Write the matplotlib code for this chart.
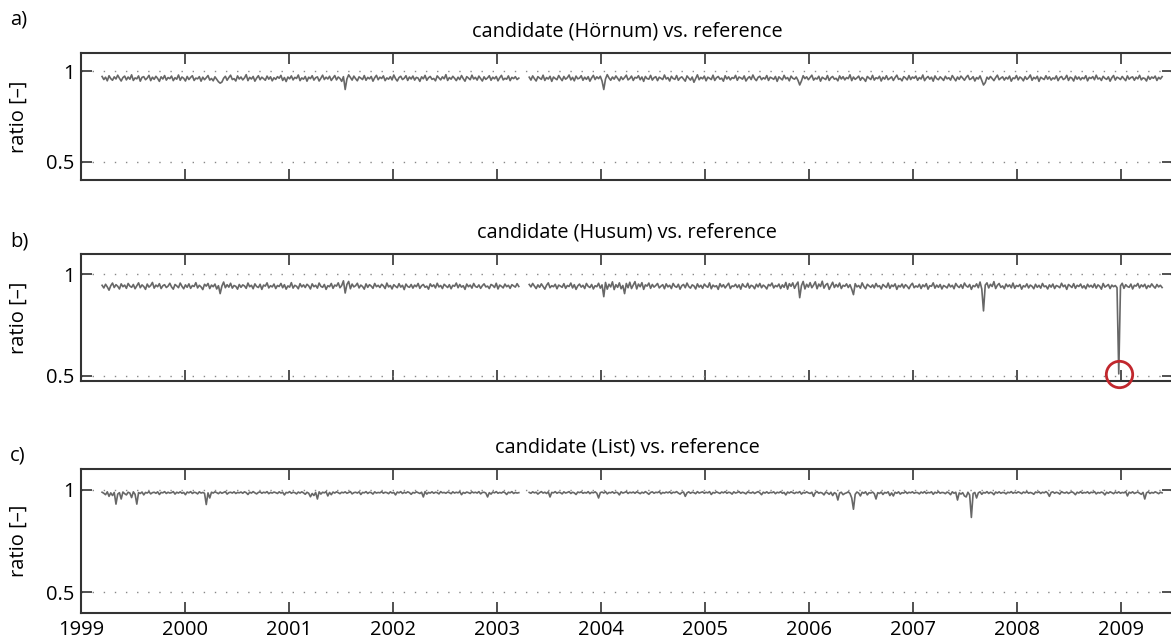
import numpy as np
import matplotlib
matplotlib.use("Agg")
import matplotlib.pyplot as plt

plt.rcParams['font.family'] = ['Open Sans', 'DejaVu Sans']

# ratio series in thousandths, two segments each (data gap in spring 2003)
seg1_start, seg1_end = 1999.20, 2003.21
seg2_start, seg2_end = 2003.31, 2009.40

hoernum_1 = [
    972, 955, 968, 948, 976, 960, 951, 970, 958, 979, 962, 947, 966, 974, 953, 969, 957, 981, 950, 964,
    959, 975, 946, 967, 971, 954, 963, 978, 949, 968, 956, 973, 961, 945, 970, 958, 977, 952, 966, 960,
    974, 949, 965, 957, 980, 951, 969, 962, 947, 972, 955, 967, 976, 950, 963, 959, 971, 946, 968, 954,
    965, 977, 952, 961, 948, 970, 957, 943, 935, 941, 962, 973, 951, 966, 979, 955, 960, 947, 975, 958,
    969, 953, 964, 982, 949, 967, 958, 972, 946, 963, 976, 954, 968, 960, 951, 974, 957, 970, 948, 965,
    956, 971, 962, 978, 950, 966, 944, 969, 959, 975, 953, 967, 961, 980, 949, 964, 957, 972, 946, 968,
    960, 976, 952, 965, 970, 947, 962, 979, 955, 968, 958, 973, 950, 964, 977, 953, 969, 961, 945, 971,
    900, 958, 981, 966, 952, 974, 960, 948, 970, 963, 955, 977, 951, 967, 959, 972, 946, 965, 978, 954,
    968, 961, 975, 949, 964, 957, 971, 953, 980, 960, 947, 966, 973, 955, 962, 976, 950, 969, 958, 974,
    952, 967, 963, 945, 970, 959, 978, 951, 965, 972, 956, 961, 948, 975, 964, 953, 970, 959, 982, 950,
    966, 957, 973, 962, 949, 968, 955, 977, 960, 946, 971, 963, 954, 979, 958, 967, 952, 974, 961, 947,
    970, 956, 964, 976, 951, 968, 959, 972, 948, 965, 978, 953, 962, 957, 975, 949, 967, 960, 971, 955,
    963]
hoernum_2 = [
    968, 952, 975, 960, 947, 971, 963, 956, 979, 950, 966, 958, 973, 945, 969, 961, 954, 977, 962, 949,
    972, 957, 965, 980, 953, 967, 948, 974, 959, 963, 976, 951, 968, 956, 971, 946, 964, 978, 955, 970,
    960, 973, 947, 900, 958, 982, 964, 951, 969, 957, 975, 962, 948, 970, 955, 966, 979, 953, 961, 974,
    950, 967, 963, 976, 954, 969, 945, 972, 960, 957, 978, 952, 965, 971, 949, 968, 962, 955, 980, 958,
    966, 947, 973, 961, 956, 977, 951, 964, 970, 958, 946, 975, 963, 952, 969, 940, 960, 981, 954, 967,
    959, 974, 948, 968, 962, 955, 979, 950, 965, 972, 957, 963, 946, 976, 958, 970, 953, 966, 961, 978,
    951, 969, 964, 957, 975, 947, 962, 971, 955, 980, 960, 949, 967, 973, 954, 965, 958, 977, 950, 968,
    963, 956, 972, 945, 970, 961, 953, 978, 959, 966, 948, 974, 962, 957, 969, 951, 925, 947, 976, 960,
    970, 954, 967, 979, 952, 963, 958, 973, 946, 968, 961, 955, 977, 950, 965, 972, 957, 962, 948, 975,
    958, 971, 953, 966, 960, 981, 949, 969, 956, 964, 974, 951, 967, 959, 945, 972, 963, 955, 978, 952,
    965, 960, 973, 947, 968, 957, 976, 954, 962, 970, 950, 966, 979, 956, 961, 948, 971, 964, 953, 977,
    955, 969, 962, 974, 951, 966, 958, 980, 949, 963, 972, 957, 968, 946, 975, 960, 954, 970, 961, 950,
    973, 959, 965, 952, 977, 962, 948, 969, 956, 974, 963, 951, 967, 978, 955, 960, 971, 947, 966, 958,
    975, 950, 925, 938, 968, 957, 972, 961, 949, 966, 979, 954, 963, 970, 952, 967, 958, 974, 946, 964,
    960, 977, 953, 969, 962, 948, 971, 956, 965, 980, 951, 967, 959, 973, 945, 968, 961, 955, 976, 957,
    970, 952, 964, 958, 975, 949, 966, 972, 955, 961, 978, 950, 968, 963, 947, 974, 957, 969, 953, 966,
    959, 976, 948, 967, 961, 971, 954, 979, 958, 964, 950, 973, 962, 956, 970, 946, 965, 977, 952, 968,
    963, 955, 972, 960, 949, 975, 957, 966, 970, 951, 968, 959, 978, 953, 964, 961, 947, 973, 956, 969,
    962, 974, 950, 967, 958, 971]

husum_1 = [
    946, 933, 951, 938, 922, 944, 957, 935, 949, 941, 928, 953, 939, 947, 931, 955, 942, 936, 950, 929,
    943, 958, 934, 948, 940, 926, 952, 937, 945, 960, 932, 947, 939, 954, 930, 944, 949, 935, 942, 956,
    938, 927, 950, 943, 934, 957, 941, 929, 948, 936, 953, 931, 945, 940, 959, 933, 946, 938, 925, 951,
    942, 955, 930, 947, 939, 952, 928, 944, 905, 942, 962, 934, 949, 937, 956, 932, 945, 941, 927, 950,
    936, 948, 943, 931, 957, 939, 946, 929, 953, 940, 935, 951, 926, 947, 942, 958, 933, 944, 938, 952,
    930, 945, 940, 955, 934, 949, 927, 943, 937, 959, 932, 946, 941, 929, 954, 938, 948, 935, 951, 943,
    928, 953, 939, 946, 932, 957, 941, 936, 950, 926, 944, 939, 955, 931, 947, 942, 958, 934, 945, 968,
    908, 950, 965, 929, 952, 938, 944, 956, 933, 947, 940, 927, 953, 936, 949, 942, 931, 955, 939, 946,
    935, 951, 943, 930, 957, 938, 945, 928, 949, 941, 934, 954, 937, 946, 925, 952, 940, 936, 950, 932,
    947, 939, 955, 931, 944, 950, 936, 942, 927, 953, 940, 948, 933, 956, 938, 945, 930, 951, 943, 935,
    949, 929, 946, 941, 957, 934, 950, 937, 944, 926, 952, 939, 947, 932, 955, 940, 936, 948, 931, 944,
    953, 938, 942, 930, 950, 945, 935, 956, 928, 947, 941, 933, 952, 939, 946, 931, 949, 943, 937, 954,
    940]
husum_2 = [
    950, 938, 955, 942, 930, 948, 936, 953, 940, 927, 946, 958, 934, 944, 939, 951, 929, 947, 942, 936,
    954, 931, 945, 940, 957, 933, 949, 926, 943, 952, 937, 946, 930, 955, 941, 935, 950, 928, 944, 939,
    956, 932, 948, 890, 960, 927, 951, 938, 963, 925, 949, 936, 958, 929, 945, 905, 955, 934, 961, 930,
    947, 964, 928, 952, 939, 959, 926, 948, 942, 957, 931, 950, 937, 945, 955, 933, 942, 949, 929, 953,
    938, 946, 930, 955, 941, 936, 951, 927, 944, 950, 934, 957, 940, 932, 948, 943, 928, 953, 937, 946,
    931, 952, 942, 936, 958, 929, 947, 939, 944, 926, 954, 938, 949, 933, 945, 956, 930, 943, 940, 951,
    935, 948, 927, 953, 941, 937, 956, 932, 946, 942, 929, 951, 938, 955, 934, 947, 940, 928, 950, 943,
    957, 933, 945, 939, 952, 930, 948, 936, 960, 927, 954, 941, 958, 931, 949, 962, 885, 944, 965, 928,
    951, 937, 959, 934, 947, 963, 929, 952, 940, 966, 932, 948, 955, 926, 944, 961, 935, 950, 938, 957,
    930, 946, 941, 953, 935, 949, 927, 900, 954, 938, 945, 932, 958, 940, 929, 951, 943, 936, 948, 933,
    955, 939, 944, 928, 950, 942, 935, 957, 931, 947, 940, 953, 926, 945, 938, 952, 933, 949, 941, 929,
    946, 956, 934, 943, 937, 951, 930, 948, 939, 954, 927, 944, 941, 958, 932, 947, 936, 950, 928, 945,
    940, 933, 952, 938, 946, 929, 955, 942, 935, 949, 931, 957, 943, 937, 950, 926, 945, 939, 953, 934,
    962, 928, 820, 947, 958, 933, 951, 940, 964, 930, 946, 955, 936, 943, 929, 952, 939, 948, 934, 957,
    931, 945, 940, 950, 927, 944, 938, 953, 933, 947, 941, 929, 951, 936, 946, 932, 955, 939, 943, 928,
    948, 937, 952, 930, 945, 941, 934, 956, 939, 947, 926, 950, 943, 935, 954, 931, 946, 940, 952, 933,
    944, 929, 951, 938, 946, 935, 953, 932, 948, 941, 927, 955, 937, 943, 950, 930, 947, 939, 945, 934,
    510, 943, 956, 931, 949, 940, 936, 952, 928, 946, 942, 955, 933, 948, 939, 951, 930, 945, 937, 953,
    941, 932, 950, 938, 946, 935]

list_1 = [
    988, 983, 976, 990, 968, 985, 972, 987, 930, 979, 986, 955, 989, 981, 975, 988, 984, 962, 990, 978,
    930, 986, 982, 989, 975, 987, 984, 991, 980, 986, 988, 983, 990, 977, 987, 985, 991, 982, 988, 984,
    986, 991, 979, 988, 984, 990, 983, 987, 976, 989, 985, 991, 982, 988, 986, 980, 990, 984, 987, 983,
    928, 985, 960, 988, 984, 990, 986, 981, 989, 983, 987, 991, 979, 986, 988, 984, 990, 982, 987, 985,
    989, 983, 990, 986, 977, 988, 984, 991, 985, 980, 987, 990, 983, 988, 985, 991, 981, 987, 984, 989,
    986, 982, 990, 984, 988, 975, 987, 985, 991, 983, 988, 986, 980, 989, 984, 990, 985, 978, 988, 983,
    966, 982, 972, 987, 955, 990, 979, 988, 985, 991, 970, 987, 976, 989, 984, 990, 986, 981, 988, 985,
    990, 983, 987, 991, 980, 986, 988, 984, 990, 977, 987, 985, 991, 982, 988, 986, 979, 990, 984, 987,
    985, 991, 983, 988, 986, 981, 990, 984, 987, 975, 989, 985, 991, 982, 988, 984, 990, 986, 978, 987,
    984, 990, 986, 982, 988, 965, 991, 979, 987, 984, 990, 983, 988, 986, 980, 991, 985, 987, 983, 989,
    986, 981, 990, 984, 988, 985, 991, 976, 987, 983, 989, 986, 982, 990, 985, 988, 984, 991, 980, 987,
    988, 984, 965, 986, 979, 989, 985, 991, 983, 987, 984, 990, 986, 977, 988, 985, 991, 982, 987, 984,
    986]
list_2 = [
    987, 983, 990, 985, 988, 979, 986, 991, 984, 988, 982, 990, 965, 987, 985, 991, 983, 988, 986, 980,
    990, 984, 987, 991, 982, 988, 985, 977, 989, 986, 990, 983, 987, 984, 991, 981, 988, 985, 990, 983,
    960, 986, 989, 984, 991, 980, 987, 985, 990, 983, 988, 986, 975, 990, 984, 987, 991, 982, 988, 985,
    989, 983, 990, 986, 981, 988, 984, 991, 985, 978, 987, 990, 983, 988, 986, 991, 980, 987, 984, 989,
    985, 990, 982, 988, 986, 991, 984, 979, 987, 989, 968, 985, 990, 983, 988, 986, 981, 991, 984, 987,
    990, 983, 988, 985, 991, 977, 987, 984, 990, 986, 982, 989, 985, 991, 983, 988, 986, 979, 990, 984,
    987, 991, 983, 988, 985, 980, 990, 986, 984, 989, 982, 987, 991, 985, 976, 988, 984, 990, 983, 987,
    986, 990, 981, 988, 985, 991, 983, 987, 975, 989, 984, 990, 986, 982, 988, 985, 991, 979, 987, 984,
    990, 985, 982, 988, 968, 986, 991, 983, 987, 984, 975, 989, 985, 978, 988, 972, 986, 981, 950, 984,
    988, 976, 982, 985, 990, 982, 960, 905, 978, 989, 984, 970, 988, 983, 990, 975, 986, 984, 989, 981,
    955, 986, 982, 989, 977, 987, 984, 990, 972, 985, 970, 988, 983, 990, 979, 986, 984, 991, 982, 988,
    985, 990, 983, 987, 986, 980, 989, 984, 991, 982, 987, 985, 990, 978, 988, 984, 991, 983, 987, 986,
    981, 989, 985, 976, 990, 983, 988, 950, 985, 979, 986, 970, 965, 988, 975, 865, 982, 987, 960, 985,
    990, 978, 987, 984, 991, 982, 988, 985, 976, 989, 984, 990, 983, 987, 986, 980, 988, 985, 991, 983,
    988, 984, 990, 986, 981, 989, 985, 991, 983, 987, 984, 978, 989, 986, 990, 982, 988, 985, 991, 984,
    968, 987, 990, 983, 988, 985, 979, 991, 986, 984, 989, 982, 987, 990, 985, 976, 988, 984, 991, 983,
    987, 985, 990, 982, 988, 986, 991, 980, 987, 984, 989, 985, 975, 988, 983, 990, 986, 981, 989, 984,
    990, 983, 987, 985, 991, 970, 988, 984, 990, 982, 986, 989, 983, 978, 987, 955, 985, 990, 982, 987,
    984, 990, 986, 981, 988, 985]

titles = ['candidate (Hörnum) vs. reference',
          'candidate (Husum) vs. reference',
          'candidate (List) vs. reference']
panel_tags = ['a)', 'b)', 'c)']
years = list(range(1999, 2010))
ylims = [(0.40, 1.10), (0.475, 1.10), (0.40, 1.10)]

series = [(hoernum_1, hoernum_2), (husum_1, husum_2), (list_1, list_2)]

# axes boxes in pixels: left, top, bottom
W, H = 1171, 643
boxes = [(81.3, 53.3, 180.0), (81.3, 254.0, 381.0), (81.3, 469.3, 612.7)]
tag_y = [20, 241, 456]

fig = plt.figure(figsize=(W / 100, H / 100), dpi=100)

line_col = '#676767'
for k in range(3):
    x0, top, bot = boxes[k]
    ax = fig.add_axes([x0 / W, 1 - bot / H, (1172.5 - x0) / W, (bot - top) / H])
    s1, s2 = series[k]
    t1 = np.linspace(seg1_start, seg1_end, len(s1))
    t2 = np.linspace(seg2_start, seg2_end, len(s2))
    v1 = np.array(s1) / 1000.0
    v2 = np.array(s2) / 1000.0
    ax.plot(t1, v1, color=line_col, lw=1.2)
    ax.plot(t2, v2, color=line_col, lw=1.2)

    if k == 1:
        # circle the outlier
        i = np.argmin(v2)
        ax.plot(t2[i], v2[i], 'o', mfc='none', mec='#c1272d', ms=19, mew=2.0,
                clip_on=False, zorder=5)

    ax.set_xlim(1999, 2009.5)
    ax.set_ylim(*ylims[k])
    ax.set_xticks(years)
    ax.set_yticks([0.5, 1])
    ax.set_yticklabels(['0.5', '1'])
    if k == 2:
        ax.set_xticklabels([str(y) for y in years])
    else:
        ax.set_xticklabels([])
    ax.tick_params(direction='in', length=8, width=1.2, color='#333333',
                   top=True, right=True, labelsize=14.5, pad=5)
    ax.grid(axis='y', color='#888888', lw=1.0, ls=(0, (1, 7)))
    for sp in ax.spines.values():
        sp.set_linewidth(1.5)
        sp.set_color('#333333')
    ax.set_title(titles[k], fontsize=14.3, pad=12)
    ax.set_ylabel('ratio [–]', fontsize=14.5)
    ax.yaxis.set_label_coords(-0.048, 0.5)
    fig.text(10 / W, 1 - tag_y[k] / H, panel_tags[k], fontsize=14.5,
             va='center', ha='left')

fig.savefig('out.png', dpi=100)
